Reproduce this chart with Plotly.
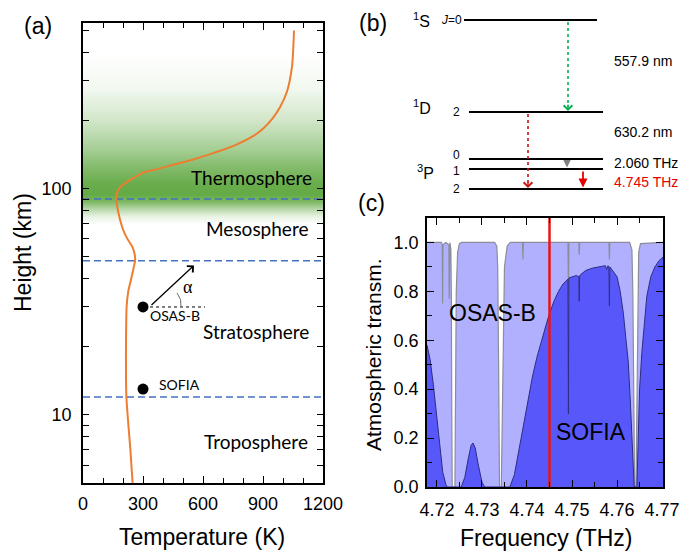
import numpy as np
import plotly.graph_objects as go

W, H = 691, 553

# ---------------- Panel (a) data ----------------
alt_km = [5, 7, 9, 12, 15, 20, 25, 30, 35, 40, 45, 49, 55, 60, 66, 73, 80, 86, 91, 96,
          100, 104, 108, 112, 117.6, 122, 127.5, 135, 143.6, 154.2, 170.6, 184.2, 205.8,
          228.9, 268.8, 346.5, 430, 500]
temp_K = [248, 237, 227, 217, 215, 215, 216, 218, 226, 241, 254, 261, 248, 222, 200, 185,
          175, 168, 165, 170, 180, 200, 226, 256, 300, 370, 450, 555, 650, 750, 850, 900,
          950, 985, 1020, 1045, 1052, 1055]

layer_bounds_km = [90, 48, 12]
layer_names = ["Thermosphere", "Mesosphere", "Stratosphere", "Troposphere"]
layer_label_km = [111.8, 66.6, 23.4, 7.6]
layer_label_T = [840, 870, 865, 865]

platforms = ["OSAS-B", "SOFIA"]
platform_T = [300, 300]
platform_km = [30, 13]

green_h = [60, 70, 76, 82, 88, 95, 105, 125, 150, 200, 280, 400, 560]
green_I = [0, 0, 0.15, 0.5, 0.85, 1.0, 0.97, 0.8, 0.58, 0.3, 0.08, 0, 0]

a_xticks = [0, 300, 600, 900, 1200]
a_yticks = [5, 6, 7, 8, 9, 10, 20, 30, 40, 50, 60, 70, 80, 90, 100, 200, 300, 400, 500]
a_ytext = ["" if v not in (10, 100) else str(v) for v in a_yticks]

# ---------------- Panel (b) data ----------------
level_names = ["1S", "1D", "3P0", "3P1", "3P2"]
level_pos = [16.9, 7.7, 3.0, 2.0, 0.0]          # schematic diagram heights
level_x0 = [6.4, 6.9, 6.9, 6.9, 6.9]
level_x1 = [19.7, 20.3, 20.3, 20.3, 20.3]
level_J = ["J=0", "2", "0", "1", "2"]
level_J_pos = [16.9, 7.7, 3.35, 1.8, 0.0]

# ---------------- Panel (c) data ----------------
osas_f = [4.7178, 4.7210, 4.72120, 4.72127, 4.72134, 4.7220, 4.72266, 4.72273, 4.72280,
          4.7229, 4.7231, 4.7232, 4.7233, 4.7234, 4.7240, 4.7241, 4.7243, 4.7246, 4.7250,
          4.7255, 4.7328, 4.7333, 4.7335, 4.7337, 4.7339, 4.7343, 4.7346, 4.7350, 4.7356,
          4.7363, 4.7390, 4.73910, 4.7392, 4.7491, 4.7492, 4.7493, 4.7515, 4.7516, 4.7517,
          4.7582, 4.7583, 4.7584, 4.7628, 4.7633, 4.7635, 4.7637, 4.7639, 4.7642, 4.7644,
          4.7646, 4.7648, 4.7652, 4.7702]
osas_t = [1.0, 1.0, 0.99, 0.75, 0.99, 1.0, 0.99, 0.77, 0.99,
          1.0, 0.97, 0.8, 0.3, 0.0, 0.0, 0.3, 0.8, 0.96, 0.995,
          1.0, 1.0, 0.985, 0.9, 0.5, 0.0, 0.0, 0.5, 0.9, 0.985,
          1.0, 1.0, 0.93, 1.0, 1.0, 0.80, 1.0, 1.0, 0.95, 1.0,
          1.0, 0.93, 1.0, 1.0, 0.97, 0.8, 0.3, 0.0, 0.0, 0.3,
          0.8, 0.96, 0.995, 1.0]

sofia_f = [4.7178, 4.7185, 4.7192, 4.7200, 4.7207, 4.7213, 4.7220, 4.7223, 4.7254, 4.7262,
           4.7270, 4.7276, 4.7280, 4.7285, 4.7292, 4.7300, 4.7306, 4.7362, 4.7372, 4.7382,
           4.7392, 4.7402, 4.7412, 4.7422, 4.7432, 4.7442, 4.7450, 4.7460, 4.7470, 4.7480,
           4.74910, 4.74920, 4.74930, 4.7500, 4.7510, 4.7515, 4.7516, 4.7517, 4.7530, 4.7545,
           4.7560, 4.7574, 4.7577, 4.7580, 4.7582, 4.7583, 4.7584, 4.7592, 4.7600, 4.7607,
           4.7614, 4.7620, 4.7625, 4.7630, 4.7633, 4.7636, 4.7638, 4.7644, 4.7647, 4.7650,
           4.7655, 4.7660, 4.7666, 4.7675, 4.7684, 4.7693, 4.7702]
sofia_t = [0.58, 0.52, 0.42, 0.28, 0.15, 0.06, 0.01, 0.0, 0.0, 0.04,
           0.12, 0.17, 0.18, 0.16, 0.09, 0.02, 0.0, 0.0, 0.05, 0.15,
           0.26, 0.36, 0.45, 0.53, 0.60, 0.66, 0.71, 0.76, 0.80, 0.83,
           0.85, 0.30, 0.855, 0.86, 0.865, 0.86, 0.76, 0.865, 0.885, 0.895,
           0.90, 0.905, 0.89, 0.905, 0.90, 0.74, 0.90, 0.88, 0.86, 0.80,
           0.71, 0.60, 0.51, 0.33, 0.20, 0.06, 0.0, 0.0, 0.2, 0.40,
           0.55, 0.67, 0.78, 0.86, 0.90, 0.925, 0.94]

line_freq_THz = 4.745
c_xticks = [4.72, 4.73, 4.74, 4.75, 4.76, 4.77]

# ---------------- helpers ----------------
def px(x):
    return x / W

def py(y):
    return 1 - y / H

FONT = "Arial, Liberation Sans, sans-serif"
CAL = "Lato, Open Sans, sans-serif"
ORANGE = "rgb(237,125,49)"
BLUE = "rgb(68,114,196)"
K = "black"

fig = go.Figure()

# ---- panel (a) ----
fig.add_trace(go.Heatmap(x=[0, 1200], y=green_h, z=[[v, v] for v in green_I],
                         colorscale=[[0, "rgb(255,255,255)"], [1, "rgb(100,170,70)"]],
                         zmin=0, zmax=1, zsmooth="best", showscale=False, hoverinfo="skip",
                         xaxis="x", yaxis="y"))
for hb in layer_bounds_km:
    fig.add_trace(go.Scatter(x=[0, 1200], y=[hb, hb], mode="lines",
                             line=dict(color=BLUE, width=1.6, dash="7px,4px"),
                             xaxis="x", yaxis="y", hoverinfo="skip"))
fig.add_trace(go.Scatter(x=temp_K, y=alt_km, mode="lines",
                         line=dict(color=ORANGE, width=2, shape="spline", smoothing=0.8),
                         xaxis="x", yaxis="y"))
fig.add_trace(go.Scatter(x=platform_T, y=platform_km, mode="markers",
                         marker=dict(color="black", size=11), xaxis="x", yaxis="y"))
fig.add_trace(go.Scatter(x=[platform_T[0] + 35, platform_T[0] + 310], y=[platform_km[0]] * 2, mode="lines",
                         line=dict(color="black", width=1, dash="dot"), xaxis="x", yaxis="y"))

# ---- panel (b) ----
for nm, yv, x0, x1 in zip(level_names, level_pos, level_x0, level_x1):
    fig.add_trace(go.Scatter(x=[x0, x1], y=[yv, yv], mode="lines", line=dict(color="black", width=2.2),
                             xaxis="x3", yaxis="y3", hoverinfo="skip"))
fig.add_trace(go.Scatter(x=[16.8, 16.8], y=[level_pos[0] - 0.2, level_pos[1] + 0.5], mode="lines",
                         line=dict(color="rgb(0,176,80)", width=1.6, dash="dot"), xaxis="x3", yaxis="y3"))
fig.add_trace(go.Scatter(x=[12.8, 12.8], y=[level_pos[1] - 0.2, level_pos[4] + 0.5], mode="lines",
                         line=dict(color="rgb(200,20,20)", width=1.6, dash="dot"), xaxis="x3", yaxis="y3"))

# ---- panel (c) ----
fig.add_trace(go.Scatter(x=osas_f, y=osas_t, mode="lines", fill="tozeroy",
                         fillcolor="rgb(176,176,255)", line=dict(color="rgb(140,140,155)", width=1.2),
                         xaxis="x2", yaxis="y2"))
fig.add_trace(go.Scatter(x=sofia_f, y=sofia_t, mode="lines", fill="tozeroy",
                         fillcolor="rgb(88,88,250)", line=dict(color="rgb(45,45,130)", width=1),
                         xaxis="x2", yaxis="y2"))
fig.add_trace(go.Scatter(x=[line_freq_THz, line_freq_THz], y=[0, 1.1], mode="lines",
                         line=dict(color="rgb(235,20,20)", width=2.5), xaxis="x2", yaxis="y2"))

ann = []
P = dict(xref="paper", yref="paper", showarrow=False, xanchor="center", yanchor="middle")
ann.append(dict(text="(a)", x=px(38), y=py(26), font=dict(size=23, family=FONT, color=K), **P))
ann.append(dict(text="(b)", x=px(373), y=py(23), font=dict(size=23, family=FONT, color=K), **P))
ann.append(dict(text="(c)", x=px(372), y=py(203), font=dict(size=23, family=FONT, color=K), **P))
ann.append(dict(text="Temperature (K)", x=px(202), y=py(537), font=dict(size=23, family=FONT, color=K), **P))
ann.append(dict(text="Height (km)", x=px(23), y=py(253), textangle=-90, font=dict(size=23, family=FONT, color=K), **P))
ann.append(dict(text="Frequency (THz)", x=px(546), y=py(538), font=dict(size=23, family=FONT, color=K), **P))
ann.append(dict(text="Atmospheric transm.", x=px(373), y=py(355), textangle=-90, font=dict(size=21, family=FONT, color=K), **P))

A = dict(xref="x", yref="y", showarrow=False, yanchor="middle")
for nm, hk, tk in zip(layer_names, layer_label_km, layer_label_T):
    ann.append(dict(text=nm, x=tk, y=np.log10(hk), xanchor="center", font=dict(size=19, family=CAL, color=K), **A))
ann.append(dict(text=platforms[0], x=325, y=np.log10(27.6), xanchor="left", font=dict(size=14, family=CAL, color=K), **A))
ann.append(dict(text=platforms[1], x=370, y=np.log10(13.6), xanchor="left", font=dict(size=14, family=CAL, color=K), **A))
ann.append(dict(text="α", x=525, y=np.log10(36.6), xanchor="center", font=dict(size=18, family="Liberation Serif, DejaVu Serif, serif", color=K), **A))
ann.append(dict(text="", x=555, y=np.log10(45.8), xref="x", yref="y", ax=-44, ay=41, showarrow=True,
                arrowhead=4, arrowsize=1.3, arrowwidth=1.3, arrowcolor="black", standoff=0))

B = dict(xref="x3", yref="y3", showarrow=False, yanchor="middle")
ann.append(dict(text="<sup>1</sup>S", x=3.2, y=level_pos[0], xanchor="right", font=dict(size=16, family=FONT, color=K), **B))
ann.append(dict(text="<i>J</i>=0", x=3.9, y=level_pos[0], xanchor="left", font=dict(size=12, family=FONT, color=K), **B))
ann.append(dict(text="<sup>1</sup>D", x=3.3, y=level_pos[1] + 0.5, xanchor="right", font=dict(size=16, family=FONT, color=K), **B))
ann.append(dict(text="<sup>3</sup>P", x=3.6, y=1.7, xanchor="right", font=dict(size=16, family=FONT, color=K), **B))
for j, yv in zip(level_J[1:], level_J_pos[1:]):
    ann.append(dict(text=j, x=5.6, y=yv, xanchor="center", font=dict(size=12, family=FONT, color=K), **B))
ann.append(dict(text="557.9 nm", x=21.2, y=12.8, xanchor="left", font=dict(size=14, family=FONT, color=K), **B))
ann.append(dict(text="630.2 nm", x=21.2, y=5.7, xanchor="left", font=dict(size=14, family=FONT, color=K), **B))
ann.append(dict(text="2.060 THz", x=21.2, y=2.6, xanchor="left", font=dict(size=14, family=FONT, color=K), **B))
ann.append(dict(text="4.745 THz", x=21.2, y=0.7, xanchor="left", font=dict(size=14, family=FONT, color="rgb(230,0,0)"), **B))
ann.append(dict(text="", x=16.8, y=level_pos[1] + 0.1, ax=0, ay=-8, xref="x3", yref="y3", showarrow=True,
                arrowhead=4, arrowsize=1.2, arrowwidth=1.4, arrowcolor="rgb(0,176,80)", standoff=0))
ann.append(dict(text="", x=12.8, y=level_pos[4] + 0.1, ax=0, ay=-8, xref="x3", yref="y3", showarrow=True,
                arrowhead=4, arrowsize=1.2, arrowwidth=1.4, arrowcolor="rgb(200,20,20)", standoff=0))
ann.append(dict(text="", x=16.7, y=level_pos[3] + 0.15, ax=16.7, ay=level_pos[2] - 0.1, axref="x3", ayref="y3",
                xref="x3", yref="y3", showarrow=True, arrowhead=2, arrowsize=1, arrowwidth=1.5,
                arrowcolor="rgb(128,128,128)", standoff=0))
ann.append(dict(text="", x=18.3, y=level_pos[4] + 0.15, ax=18.3, ay=level_pos[3] - 0.1, axref="x3", ayref="y3",
                xref="x3", yref="y3", showarrow=True, arrowhead=2, arrowsize=1, arrowwidth=1.8,
                arrowcolor="rgb(230,0,0)", standoff=0))

C = dict(xref="x2", yref="y2", showarrow=False, xanchor="center", yanchor="middle")
ann.append(dict(text="OSAS-B", x=4.7324, y=0.713, font=dict(size=23, family=FONT, color=K), **C))
ann.append(dict(text="SOFIA", x=4.7542, y=0.225, font=dict(size=23, family=FONT, color=K), **C))

arc = f"M {px(181)},{py(307)} Q {px(182)},{py(299)} {px(177)},{py(293)}"
shapes = [dict(type="path", path=arc, xref="paper", yref="paper", line=dict(color="rgb(110,110,110)", width=1))]

axis_common = dict(showline=True, linecolor="black", linewidth=1.6, mirror="ticks", ticks="inside",
                   tickcolor="black", showgrid=False, zeroline=False, automargin=False,
                   tickfont=dict(size=18, family=FONT, color="black"))

fig.update_layout(
    template="none",
    font=dict(family=FONT, color="black"),
    width=W, height=H, margin=dict(l=0, r=0, t=0, b=0, pad=0), autosize=False,
    paper_bgcolor="white", plot_bgcolor="rgba(0,0,0,0)", showlegend=False,
    annotations=ann, shapes=shapes,
    xaxis=dict(domain=[px(83), px(323)], range=[0, 1200], anchor="y", tickvals=a_xticks, ticklen=7,
               minor=dict(dtick=100, tick0=0, ticks="inside", ticklen=5, tickcolor="black"),
               ticklabelstandoff=4, **axis_common),
    yaxis=dict(domain=[py(483), py(23)], type="log", range=[np.log10(5), np.log10(540)], anchor="x",
               tickvals=a_yticks, ticktext=a_ytext, ticklen=6, ticklabelstandoff=6, **axis_common),
    xaxis2=dict(domain=[px(427), px(663)], range=[4.7178, 4.7702], anchor="y2", tickvals=c_xticks,
                tickformat=".2f", ticklen=7,
                minor=dict(dtick=0.005, tick0=4.72, ticks="inside", ticklen=5, tickcolor="black"),
                ticklabelstandoff=6, **axis_common),
    yaxis2=dict(domain=[py(487), py(218)], range=[0, 1.1], anchor="x2", dtick=0.2, tick0=0,
                tickformat=".1f", ticklen=7,
                minor=dict(dtick=0.1, tick0=0, ticks="inside", ticklen=5, tickcolor="black"),
                ticklabelstandoff=3, **axis_common),
    xaxis3=dict(domain=[px(400), px(690)], range=[0, 29], anchor="y3", visible=False),
    yaxis3=dict(domain=[py(200), py(10)], range=[-1.1, 17.9], anchor="x3", visible=False),
)

fig.write_html("out.html")
